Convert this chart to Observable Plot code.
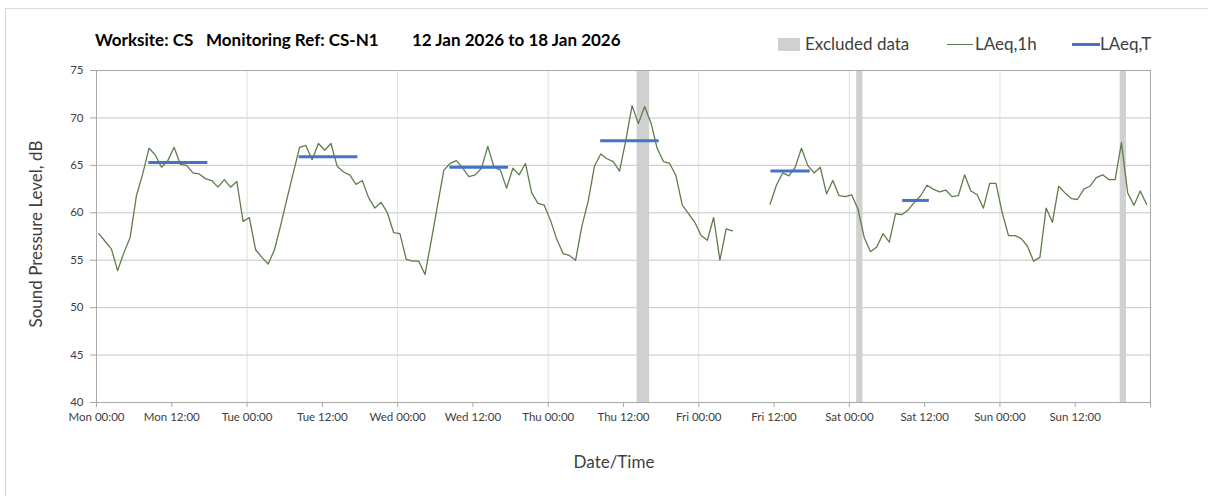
<!DOCTYPE html>
<html><head><meta charset="utf-8">
<script src="https://cdn.jsdelivr.net/npm/d3@7"></script>
<script src="https://cdn.jsdelivr.net/npm/@observablehq/plot@0.6"></script>
<style>
body{margin:0;background:#fff;font-family:Lato,"Open Sans",sans-serif;}
#wrap{position:relative;width:1208px;height:496px;overflow:hidden;background:#fff;}
#border{position:absolute;left:5px;top:8px;width:1220px;height:500px;border-left:1px solid #d9d9d9;border-top:1px solid #d9d9d9;}
#chart{position:absolute;left:0;top:0;}
.t{position:absolute;white-space:pre;}
.title{top:29px;font-weight:bold;font-size:17px;color:#000;}
.leg{top:33px;font-size:17px;color:#404040;}
.sw{position:absolute;}
#ylab{position:absolute;left:35px;top:234px;transform:translate(-50%,-50%) rotate(-90deg);font-size:17px;color:#404040;white-space:nowrap;}
#xlab{position:absolute;left:614px;top:461px;transform:translate(-50%,-50%);font-size:17px;color:#404040;white-space:nowrap;}
</style></head>
<body>
<div id="wrap">
  <div id="border"></div>
  <div id="chart"></div>
  <div class="t title" style="left:95px">Worksite: CS</div>
  <div class="t title" style="left:206px">Monitoring Ref: CS-N1</div>
  <div class="t title" style="left:412px">12 Jan 2026 to 18 Jan 2026</div>
  <div class="sw" style="left:778px;top:38px;width:22px;height:13px;background:#d0d0d0"></div>
  <div class="t leg" style="left:805px">Excluded data</div>
  <div class="sw" style="left:947px;top:44px;width:26px;height:1.3px;background:#5e7d4a"></div>
  <div class="t leg" style="left:975px">LAeq,1h</div>
  <div class="sw" style="left:1072px;top:43px;width:28px;height:3px;background:#4472c4"></div>
  <div class="t leg" style="left:1100px">LAeq,T</div>
  <div id="ylab">Sound Pressure Level, dB</div>
  <div id="xlab">Date/Time</div>
</div>
<script>
// Hourly LAeq,1h values (dB) starting Mon 12 Jan 2026 00:00; null = no data
const mon = [57.8,57.0,56.2,53.9,55.8,57.4,61.8,64.1,66.8,66.1,64.8,65.5,66.9,65.1,65.0,64.2,64.1,63.6,63.4,62.7,63.5,62.7,63.3,59.1];
const tue = [59.5,56.1,55.3,54.6,56.1,58.7,61.5,64.2,66.9,67.1,65.6,67.3,66.6,67.3,64.9,64.3,64.0,63.0,63.4,61.6,60.5,61.1,60.0,57.9];
const wed = [57.8,55.1,54.9,54.9,53.5,57.1,60.8,64.5,65.2,65.5,64.7,63.8,64.0,64.7,67.0,64.8,64.5,62.6,64.7,64.0,65.2,62.1,61.0,60.8];
const thu = [59.2,57.2,55.7,55.5,55.0,58.6,61.2,64.9,66.2,65.7,65.4,64.4,67.6,71.3,69.4,71.2,69.5,66.8,65.4,65.2,63.9,60.8,59.9,59.0];
const fri = [57.6,57.1,59.5,55.0,58.3,58.1,null,null,null,null,null,60.9,62.9,64.2,63.9,64.8,66.8,65.0,64.2,64.8,62.0,63.4,61.8,61.7];
const sat = [61.9,60.4,57.4,55.9,56.4,57.8,56.9,59.9,59.8,60.3,61.1,61.8,62.9,62.5,62.2,62.4,61.7,61.8,64.0,62.3,61.9,60.5,63.1,63.1];
const sun = [60.0,57.6,57.6,57.3,56.5,54.9,55.3,60.5,59.0,62.8,62.1,61.5,61.4,62.5,62.8,63.7,64.0,63.5,63.5,67.4,62.1,60.8,62.3,60.9];

// Excluded data periods
const excludedStart = ["2026-01-15T14:00Z","2026-01-17T01:00Z","2026-01-18T19:00Z"];
const excludedEnd   = ["2026-01-15T16:00Z","2026-01-17T02:00Z","2026-01-18T20:00Z"];

// LAeq,T period levels
const ltStart = ["2026-01-12T08:20Z","2026-01-13T08:18Z","2026-01-14T08:20Z","2026-01-15T08:22Z","2026-01-16T11:30Z","2026-01-17T08:30Z"];
const ltEnd   = ["2026-01-12T17:45Z","2026-01-13T17:40Z","2026-01-14T17:40Z","2026-01-15T17:41Z","2026-01-16T17:46Z","2026-01-17T12:45Z"];
const ltValue = [65.3,65.9,64.8,67.6,64.4,61.3];

const yTicks = [40,45,50,55,60,65,70,75];

const start = new Date("2026-01-12T00:00Z");
const end = new Date("2026-01-19T00:00Z");
const HOUR = 3600e3;
const sampleShift = 22 * 60e3; // samples plotted within each hour slot
const bandShift = 10 * 60e3;

const values = [].concat(mon, tue, wed, thu, fri, sat, sun);
const series = values.map((v, i) => ({t: new Date(+start + i * HOUR + sampleShift), v: v == null ? NaN : v}));
const excluded = excludedStart.map((s, i) => ({s: new Date(+new Date(s) + bandShift), e: new Date(+new Date(excludedEnd[i]) + bandShift)}));
const lt = ltValue.map((v, i) => ({s: new Date(ltStart[i]), e: new Date(ltEnd[i]), v}));
const dayLines = d3.utcDay.range(d3.utcDay.offset(start, 1), end);
const xTicks = d3.utcHour.every(12).range(start, new Date(+end + 1));
const fmt = d3.utcFormat("%a %H:%M");

const chart = Plot.plot({
  width: 1208, height: 496,
  marginLeft: 96, marginRight: 58, marginTop: 70, marginBottom: 94,
  style: {fontFamily: "Lato, 'Open Sans', sans-serif", fontSize: "11.5px", background: "transparent", color: "#404040"},
  x: {type: "utc", domain: [start, end]},
  y: {domain: [40, 75]},
  marks: [
    Plot.ruleY(yTicks.filter(d => d > 40 && d < 75), {stroke: "#c6c6c6", strokeWidth: 1}),
    Plot.ruleX(dayLines, {stroke: "#dedede", strokeWidth: 1}),
    Plot.rect(excluded, {x1: "s", x2: "e", y1: 40, y2: 75, fill: "#d0d0d0"}),
    Plot.frame({stroke: "#a8a8a8"}),
    Plot.line(series, {x: "t", y: "v", stroke: "#5e7d4a", strokeWidth: 1.3}),
    Plot.ruleY(lt, {x1: "s", x2: "e", y: "v", stroke: "#4472c4", strokeWidth: 3}),
    Plot.axisX({ticks: xTicks, tickFormat: d => +d === +end ? "" : fmt(d), tickSize: 5, tickPadding: 5, stroke: "#a8a8a8", fill: "#404040", label: null}),
    Plot.axisY({ticks: yTicks, tickSize: 6, tickPadding: 7, stroke: "#a8a8a8", fill: "#404040", label: null})
  ]
});
document.getElementById("chart").appendChild(chart);
</script>
</body></html>
